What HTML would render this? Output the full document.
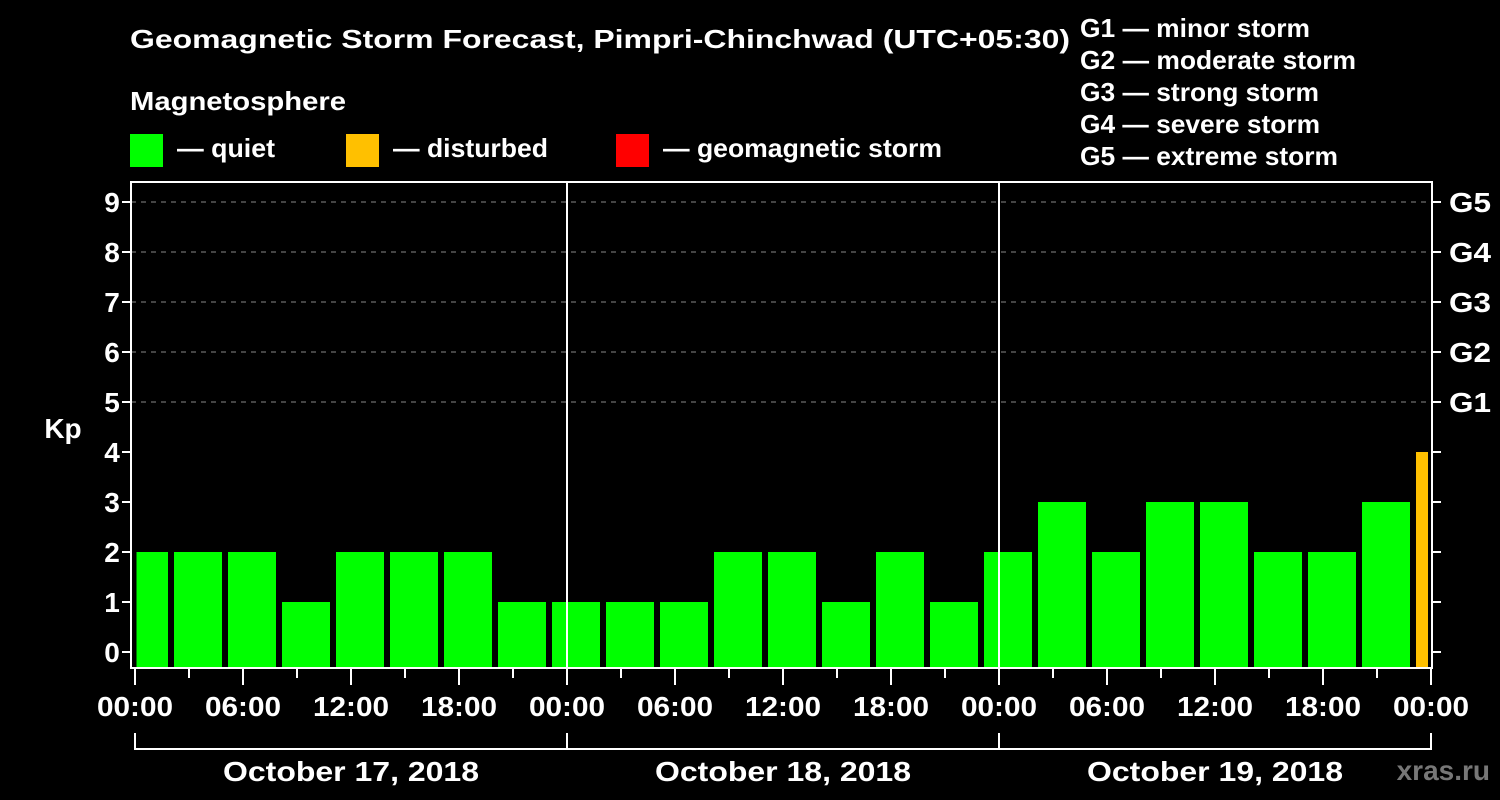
<!DOCTYPE html>
<html><head><meta charset="utf-8"><style>
html,body{margin:0;padding:0;background:#000;}
svg{display:block;font-family:"Liberation Sans",Arial,sans-serif;font-weight:bold;}
</style></head><body>
<svg id="chart" width="1500" height="800" viewBox="0 0 1500 800">
<rect x="0" y="0" width="1500" height="800" fill="#000"/>
<text x="130" y="48" fill="#fff" font-size="26" textLength="940" lengthAdjust="spacingAndGlyphs">Geomagnetic Storm Forecast, Pimpri-Chinchwad (UTC+05:30)</text>
<text x="130" y="110" fill="#fff" font-size="26" textLength="216" lengthAdjust="spacingAndGlyphs">Magnetosphere</text>
<g><rect x="130" y="134" width="33" height="33" fill="#00ff00"/><text x="177" y="157" fill="#fff" font-size="26" textLength="98" lengthAdjust="spacingAndGlyphs">— quiet</text></g>
<g><rect x="346" y="134" width="33" height="33" fill="#ffc000"/><text x="393" y="157" fill="#fff" font-size="26" textLength="155" lengthAdjust="spacingAndGlyphs">— disturbed</text></g>
<g><rect x="616" y="134" width="33" height="33" fill="#ff0000"/><text x="663" y="157" fill="#fff" font-size="26" textLength="279" lengthAdjust="spacingAndGlyphs">— geomagnetic storm</text></g>
<g fill="#fff" font-size="26">
<text x="1080" y="37" textLength="230" lengthAdjust="spacingAndGlyphs">G1 — minor storm</text>
<text x="1080" y="69" textLength="276" lengthAdjust="spacingAndGlyphs">G2 — moderate storm</text>
<text x="1080" y="101" textLength="239" lengthAdjust="spacingAndGlyphs">G3 — strong storm</text>
<text x="1080" y="133" textLength="240" lengthAdjust="spacingAndGlyphs">G4 — severe storm</text>
<text x="1080" y="165" textLength="258" lengthAdjust="spacingAndGlyphs">G5 — extreme storm</text>
</g>
<text x="63" y="438" fill="#fff" font-size="28" text-anchor="middle">Kp</text>
<text x="1490" y="780" fill="#777" font-size="28" text-anchor="end">xras.ru</text>
<g id="grid"></g>
<g id="bars"></g>
<g id="axes"></g>
</svg>
<script>
const kpValues=[2,2,2,1,2,2,2,1, 1,1,1,2,2,1,2,1, 2,3,2,3,3,2,2,3, 4];
const startHours=[0,2,5,8,11,14,17,20, 23,26,29,32,35,38,41,44, 47,50,53,56,59,62,65,68, 71];
const endHour=72;
const yTicks=[0,1,2,3,4,5,6,7,8,9];
const gLabels=["G1","G2","G3","G4","G5"];
const gLevels=[5,6,7,8,9];
const xTickLabels=["00:00","06:00","12:00","18:00","00:00","06:00","12:00","18:00","00:00","06:00","12:00","18:00","00:00"];
const dayLabels=["October 17, 2018","October 18, 2018","October 19, 2018"];

const NS="http://www.w3.org/2000/svg";
const X0=135,PXH=18,Y0=652,PXK=50,TOP=182,BOT=668,LEFT=131,RIGHT=1432;
const xs=h=>X0+h*PXH, ys=k=>Y0-k*PXK;
function mk(tag,attrs,parent){const e=document.createElementNS(NS,tag);for(const k in attrs)e.setAttribute(k,attrs[k]);parent.appendChild(e);return e;}
const grid=document.getElementById('grid'),bars=document.getElementById('bars'),axes=document.getElementById('axes');

gLevels.forEach(k=>{const l=mk('line',{x1:LEFT,x2:RIGHT,y1:ys(k),y2:ys(k),stroke:'#888','stroke-dasharray':'5,5','stroke-width':1},grid);

});

function color(v){return v>=5?'#ff0000':(v>=4?'#ffc000':'#00ff00');}
kpValues.forEach((v,i)=>{
 const s=startHours[i], e=(i+1<startHours.length)?startHours[i+1]:endHour;
 let x1=xs(s)+3, x2=xs(e)-3;
 if(i===0)x1=xs(s)+1.5;
 const r=mk('rect',{x:x1,y:ys(v),width:x2-x1,height:BOT-ys(v),fill:color(v)},bars);
 
 
});

[24,48].forEach(h=>{const l=mk('line',{x1:xs(h),x2:xs(h),y1:TOP,y2:BOT,stroke:'#fff','stroke-width':2},axes);

});
const frame=mk('rect',{x:LEFT,y:TOP,width:RIGHT-LEFT,height:BOT-TOP,fill:'none',stroke:'#fff','stroke-width':2},axes);



yTicks.forEach(k=>{
 mk('line',{x1:LEFT-9,x2:LEFT,y1:ys(k),y2:ys(k),stroke:'#fff','stroke-width':2},axes);
 mk('line',{x1:RIGHT,x2:RIGHT+9,y1:ys(k),y2:ys(k),stroke:'#fff','stroke-width':2},axes);
 const t=mk('text',{x:112,y:ys(k)+10,fill:'#fff','font-size':28,'text-anchor':'middle'},axes);
 t.textContent=k;
 
 
});
gLabels.forEach((g,i)=>{
 const t=mk('text',{x:1449,y:ys(gLevels[i])+10,fill:'#fff','font-size':28,textLength:42,lengthAdjust:'spacingAndGlyphs'},axes);
 t.textContent=g;
 
 
});
for(let h=0;h<=72;h+=3){
 const major=h%6===0;
 mk('line',{x1:xs(h),x2:xs(h),y1:BOT,y2:BOT+(major?17:10),stroke:'#fff','stroke-width':2},axes);
}
xTickLabels.forEach((lab,i)=>{
 const t=mk('text',{x:xs(i*6),y:716,fill:'#fff','font-size':28,'text-anchor':'middle',textLength:76,lengthAdjust:'spacingAndGlyphs'},axes);
 t.textContent=lab;
 
 
});
mk('line',{x1:xs(0),x2:xs(72),y1:749,y2:749,stroke:'#fff','stroke-width':2},axes);
[0,24,48,72].forEach(h=>mk('line',{x1:xs(h),x2:xs(h),y1:733,y2:750,stroke:'#fff','stroke-width':2},axes));
dayLabels.forEach((d,i)=>{
 const t=mk('text',{x:xs(i*24+12),y:781,fill:'#fff','font-size':28,'text-anchor':'middle',textLength:256,lengthAdjust:'spacingAndGlyphs'},axes);
 t.textContent=d;
 
 
});
</script>
</body></html>
